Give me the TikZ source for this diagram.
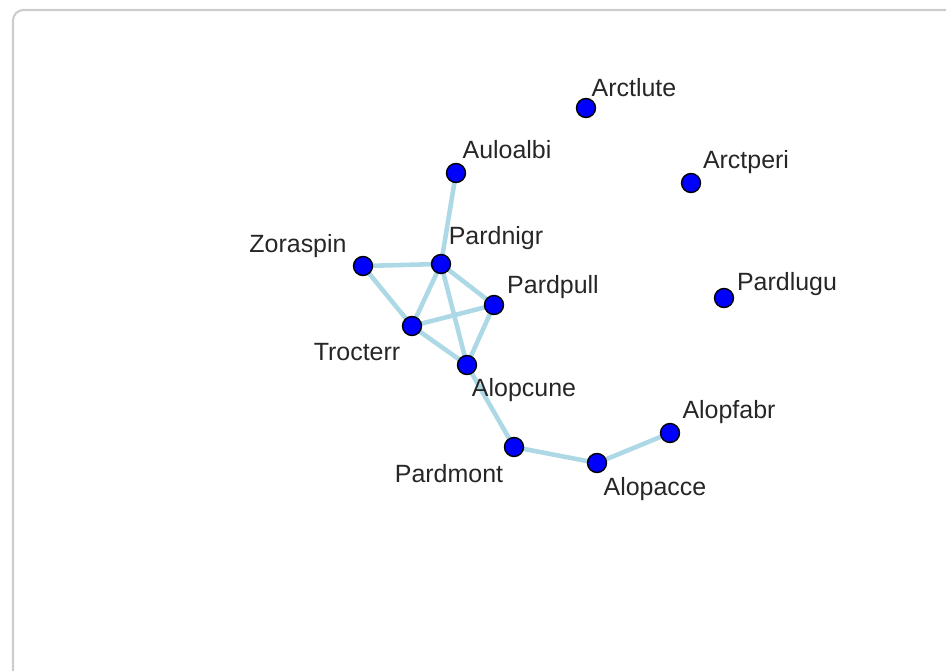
\documentclass[tikz,border=0pt]{standalone}
\usepackage{fontspec}
\setmainfont{Liberation Sans}
\usetikzlibrary{backgrounds}
\definecolor{edgeblue}{RGB}{173,216,230}
\begin{document}
\begin{tikzpicture}[x=0.02cm,y=-0.02cm,
  vtx/.style={circle,draw=black,fill=blue,thick,inner sep=0pt,minimum size=0.38cm},
  lbl/.style={font=\fontsize{14.2}{16}\selectfont,text=black!85,inner sep=0pt},
  edge/.style={line width=2.6pt,color=edgeblue}]

\useasboundingbox (0,0) rectangle (946,671);
\draw [line width=1.2pt,draw=black!20,rounded corners=6pt] (13,10) rectangle (990,720);

% vertices
\node [vtx] (arctlute) at (586,108) {};
\node [vtx] (auloalbi) at (456,173) {};
\node [vtx] (arctperi) at (691,183) {};
\node [vtx] (zoraspin) at (363,266) {};
\node [vtx] (pardnigr) at (441,264) {};
\node [vtx] (pardpull) at (494,305) {};
\node [vtx] (pardlugu) at (724,298) {};
\node [vtx] (trocterr) at (412,326) {};
\node [vtx] (alopcune) at (467,365) {};
\node [vtx] (alopfabr) at (670,433) {};
\node [vtx] (pardmont) at (514,447) {};
\node [vtx] (alopacce) at (597,463) {};

% labels
\node [lbl] (arctluteL) at (634,88) {Arctlute};
\node [lbl] (auloalbiL) at (507,150) {Auloalbi};
\node [lbl] (arctperiL) at (746,162) {Arctperi};
\node [lbl] (zoraspinL) at (298,246) {Zoraspin};
\node [lbl] (pardnigrL) at (496,238) {Pardnigr};
\node [lbl] (pardpullL) at (553,287) {Pardpull};
\node [lbl] (pardluguL) at (787,284) {Pardlugu};
\node [lbl] (trocterrL) at (357,352) {Trocterr};
\node [lbl] (alopcuneL) at (524,390) {Alopcune};
\node [lbl] (alopfabrL) at (729,412) {Alopfabr};
\node [lbl] (pardmontL) at (449,474) {Pardmont};
\node [lbl] (alopacceL) at (655,489) {Alopacce};

% edges
\begin{pgfonlayer}{background}
\draw [edge] (auloalbi.center) -- (pardnigr.center);
\draw [edge] (zoraspin.center) -- (pardnigr.center);
\draw [edge] (zoraspin.center) -- (trocterr.center);
\draw [edge] (pardnigr.center) -- (trocterr.center);
\draw [edge] (pardnigr.center) -- (pardpull.center);
\draw [edge] (pardnigr.center) -- (alopcune.center);
\draw [edge] (trocterr.center) -- (pardpull.center);
\draw [edge] (trocterr.center) -- (alopcune.center);
\draw [edge] (pardpull.center) -- (alopcune.center);
\draw [edge] (alopcune.center) -- (pardmont.center);
\draw [edge] (pardmont.center) -- (alopacce.center);
\draw [edge] (alopacce.center) -- (alopfabr.center);
\end{pgfonlayer}
\end{tikzpicture}
\end{document}
